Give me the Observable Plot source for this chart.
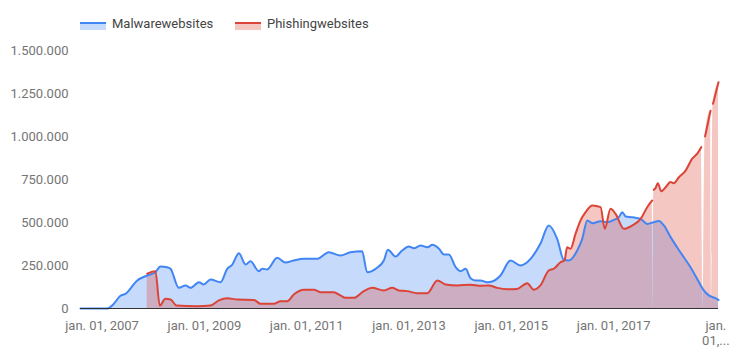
<!DOCTYPE html>
<html>
<head>
<meta charset="utf-8">
<script src="https://cdn.jsdelivr.net/npm/d3@7"></script>
<script src="https://cdn.jsdelivr.net/npm/@observablehq/plot@0.6"></script>
<style>
  html, body { margin: 0; padding: 0; background: #fff; }
  #wrap { position: relative; width: 736px; height: 361px; font-family: Roboto, sans-serif; }
  #legend { position: relative; width: 736px; height: 40px; }
  .sw { position: absolute; top: 22px; width: 26px; height: 6px; }
  .lt { position: absolute; top: 16px; font-size: 13px; line-height: 15px; color: #444; white-space: nowrap; }
</style>
</head>
<body>
<div id="wrap">
  <div id="legend"></div>
  <div id="chart"></div>
</div>
<script>
const seriesNames = ["Malwarewebsites", "Phishingwebsites"];
const seriesColors = ["#4285F4", "#DB4437"];

const malwareDates = [
  "2006-07-31","2007-02-07","2007-03-23","2007-05-12","2007-06-17","2007-09-09","2007-11-19",
  "2008-01-17","2008-02-22","2008-04-10","2008-05-04","2008-07-02","2008-08-19","2008-09-24",
  "2008-11-23","2008-12-28","2009-02-14","2009-04-26","2009-06-13","2009-07-18","2009-09-04",
  "2009-10-22","2009-11-26","2010-01-24","2010-02-18","2010-03-25","2010-06-05","2010-08-03",
  "2010-10-01","2010-12-12","2011-03-18","2011-06-08","2011-08-30","2011-11-10","2012-02-01",
  "2012-03-08","2012-05-18","2012-07-05","2012-08-03","2012-09-27","2012-11-13","2012-12-31",
  "2013-02-05","2013-03-25","2013-05-12","2013-06-17","2013-08-03","2013-09-07","2013-10-13",
  "2013-11-30","2014-01-04","2014-02-09","2014-03-16","2014-04-21","2014-05-27","2014-07-13",
  "2014-08-18","2014-10-16","2014-12-27","2015-03-08","2015-04-25","2015-07-28","2015-09-26",
  "2015-11-25","2016-01-11","2016-02-16","2016-04-16","2016-05-22","2016-06-27","2016-08-02",
  "2016-09-30","2016-11-17","2017-01-03","2017-02-08","2017-03-04","2017-03-28","2017-05-15",
  "2017-07-13","2017-08-29","2017-10-15","2017-11-20","2017-12-26","2018-02-12","2018-04-23",
  "2018-07-04","2018-08-21","2018-10-07","2018-11-12","2018-12-29","2019-01-20"
];
const malwareValues = [
  0,0,25000,74000,85000,163000,192000,
  211000,244000,240000,231000,120000,134000,120000,
  153000,140000,169000,153000,231000,254000,321000,
  256000,275000,217000,231000,227000,295000,267000,
  279000,289000,289000,327000,308000,327000,333000,
  211000,237000,279000,341000,302000,337000,360000,
  350000,366000,356000,370000,347000,314000,314000,
  240000,217000,231000,176000,163000,163000,153000,
  157000,192000,279000,250000,269000,376000,483000,
  405000,283000,279000,337000,405000,512000,496000,
  507000,502000,515000,531000,560000,535000,531000,
  521000,492000,502000,508000,483000,415000,327000,
  240000,172000,105000,76000,60000,50000
];

const phishingDates = [
  "2007-11-19","2008-01-17","2008-02-17","2008-03-28","2008-05-04","2008-06-16","2008-11-11",
  "2009-02-14","2009-04-14","2009-06-13","2009-08-23","2009-12-20","2010-02-06","2010-05-11",
  "2010-06-28","2010-08-15","2010-10-01","2010-12-12","2011-02-21","2011-04-10","2011-07-13",
  "2011-08-30","2011-10-05","2011-12-03","2012-02-13","2012-04-13","2012-07-05","2012-09-03",
  "2012-10-20","2012-12-19","2013-03-01","2013-05-12","2013-07-22","2013-09-20","2013-12-12",
  "2014-03-16","2014-05-27","2014-07-24","2014-09-23","2014-12-03","2015-02-12","2015-04-25",
  "2015-06-11","2015-07-28","2015-09-26","2015-11-01","2015-12-19","2016-01-16","2016-02-04",
  "2016-02-28","2016-04-04","2016-05-10","2016-06-15","2016-08-02","2016-09-30","2016-10-30",
  "2016-12-10","2017-01-15","2017-03-16","2017-05-15","2017-07-13","2017-08-29","2017-10-04",
  "2017-10-10","2017-10-15","2017-10-27","2017-11-13","2017-12-07","2018-01-07","2018-02-12",
  "2018-03-07","2018-04-12","2018-05-30","2018-07-16","2018-08-21","2018-09-19","2018-10-01",
  "2018-10-16","2018-11-24","2018-12-01","2018-12-12","2019-01-20"
];
const phishingValues = [
  203000,217000,17000,56000,52000,17000,13000,
  17000,47000,60000,52000,50000,27000,27000,
  42000,42000,81000,109000,109000,95000,95000,
  76000,62000,62000,101000,120000,105000,120000,
  105000,101000,89000,89000,163000,140000,134000,
  138000,132000,134000,120000,112000,114000,147000,
  109000,134000,221000,231000,269000,279000,356000,
  347000,434000,512000,560000,599000,589000,463000,
  580000,550000,463000,483000,521000,589000,628000,
  null,690000,700000,728000,682000,705000,735000,
  728000,763000,802000,871000,900000,938000,null,
  1000000,1150000,null,1190000,1316000
];

const xDomain = ["2006-07-31", "2019-01-20"];
const xTickDates = ["2007-01-01","2009-01-01","2011-01-01","2013-01-01","2015-01-01","2017-01-01","2019-01-01"];
const xTickLabels = ["jan. 01, 2007","jan. 01, 2009","jan. 01, 2011","jan. 01, 2013","jan. 01, 2015","jan. 01, 2017","jan.\n01,..."];
const yTicks = [0, 250000, 500000, 750000, 1000000, 1250000, 1500000];
const yTickLabels = ["0","250.000","500.000","750.000","1.000.000","1.250.000","1.500.000"];

const malware = malwareDates.map((d, i) => ({date: new Date(d), value: malwareValues[i]}));
const phishing = phishingDates.map((d, i) => ({date: new Date(d), value: phishingValues[i]}));
const xt = xTickDates.map(d => new Date(d));

// legend
const legend = document.getElementById("legend");
const legendX = [[80, 112], [235, 267]];
seriesNames.forEach((name, i) => {
  const sw = document.createElement("div");
  sw.className = "sw";
  sw.style.left = legendX[i][0] + "px";
  sw.style.borderTop = "2px solid " + seriesColors[i];
  sw.style.background = d3.color(seriesColors[i]).copy({opacity: 0.3}).formatRgb();
  legend.appendChild(sw);
  const t = document.createElement("span");
  t.className = "lt";
  t.style.left = legendX[i][1] + "px";
  t.textContent = name;
  legend.appendChild(t);
});

const chart = Plot.plot({
  width: 736,
  height: 321,
  marginTop: 10,
  marginBottom: 53,
  marginLeft: 80,
  marginRight: 18,
  style: {fontFamily: "Roboto, sans-serif", fontSize: "13px", color: "#757575", background: "#fff"},
  x: {type: "utc", domain: xDomain.map(d => new Date(d)), axis: null},
  y: {domain: [0, 1500000], axis: null},
  marks: [
    Plot.areaY(malware, {x: "date", y: "value", fill: seriesColors[0], fillOpacity: 0.3, curve: "monotone-x"}),
    Plot.areaY(phishing, {x: "date", y: "value", fill: seriesColors[1], fillOpacity: 0.3, curve: "monotone-x"}),
    Plot.lineY(malware, {x: "date", y: "value", stroke: seriesColors[0], strokeWidth: 2, curve: "monotone-x"}),
    Plot.lineY(phishing, {x: "date", y: "value", stroke: seriesColors[1], strokeWidth: 2, curve: "monotone-x"}),
    Plot.ruleY([0], {stroke: "#333", strokeWidth: 1}),
    Plot.axisY({ticks: yTicks, tickFormat: d => yTickLabels[yTicks.indexOf(d)], tickSize: 0, tickPadding: 12, label: null, fill: "#757575"}),
    Plot.axisX({ticks: xt, tickFormat: d => xTickLabels[xt.findIndex(t => +t === +d)], tickSize: 0, tickPadding: 10, label: null, fill: "#757575", lineHeight: 1.2})
  ]
});
document.getElementById("chart").appendChild(chart);
</script>
</body>
</html>
